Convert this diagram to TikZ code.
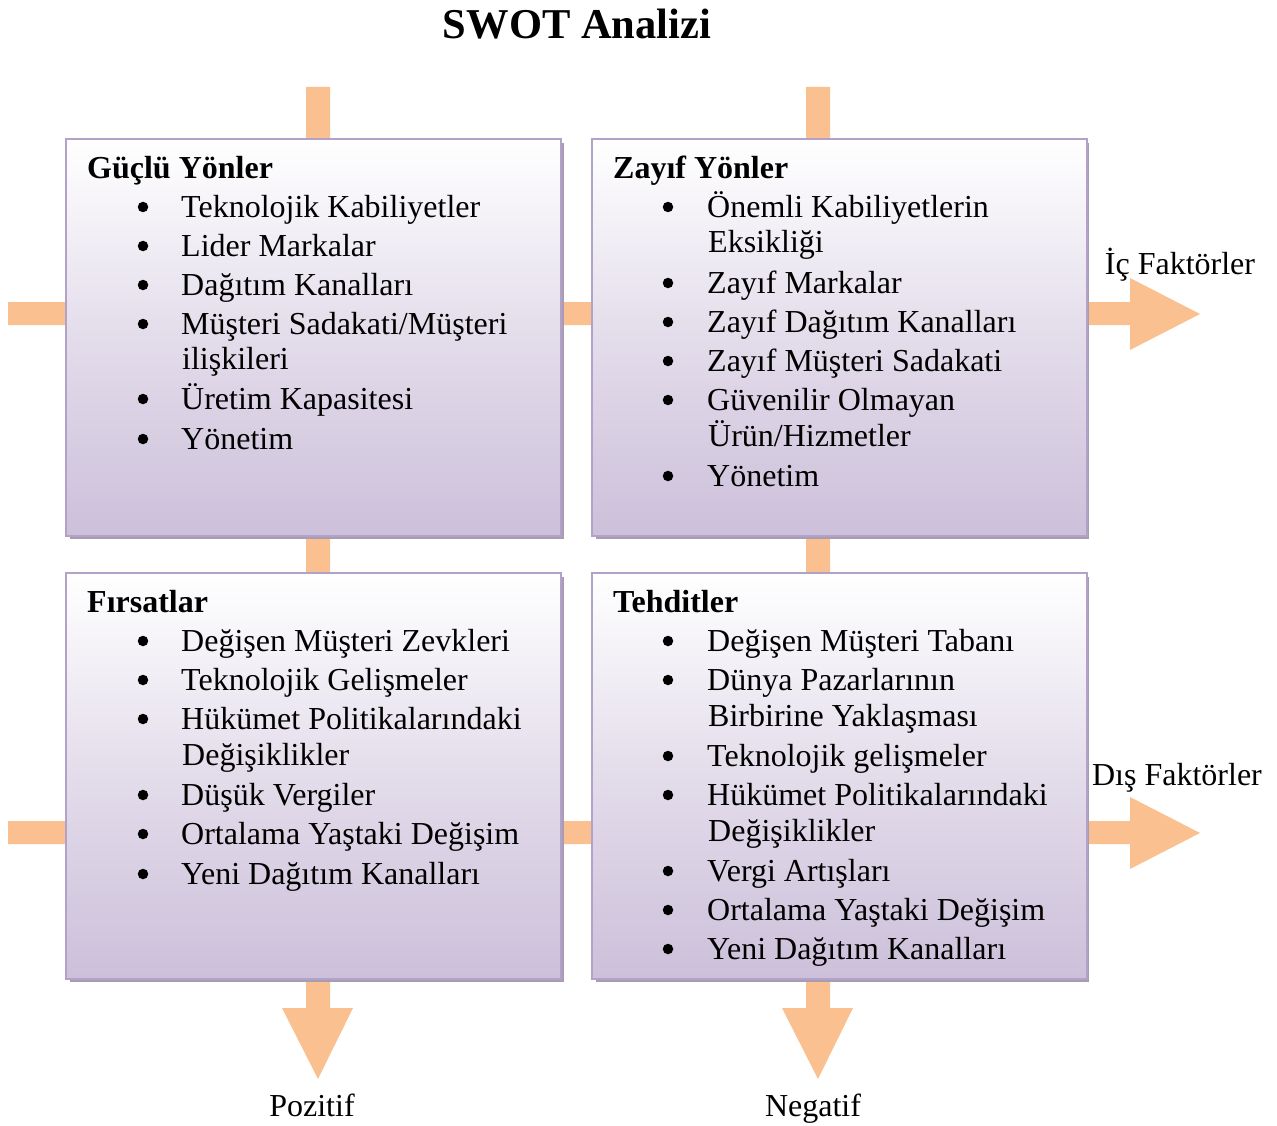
\documentclass[tikz,border=0pt]{standalone}
\usepackage{fontspec}
\setmainfont{Liberation Serif}
\definecolor{arroworange}{HTML}{FAC090}
\definecolor{boxlav}{HTML}{CCC0DA}
\definecolor{boxedge}{HTML}{B3A2C7}
\definecolor{shadowc}{HTML}{A89CB5}
\tikzset{
  swotbox/.style={draw=boxedge, line width=2pt, top color=white, bottom color=boxlav, middle color=boxlav!55, shading angle=0, minimum width=495pt, inner sep=0pt},
  boxshadow/.style={fill=shadowc},
  bararrow/.style={fill=arroworange, draw=none},
  txt/.style={anchor=mid west, inner sep=0pt, yshift=-8pt, font=\fontsize{32}{36}\selectfont},
  head/.style={anchor=mid west, inner sep=0pt, yshift=-8pt, font=\fontsize{32}{36}\selectfont\bfseries},
  bul/.style={circle, fill=black, minimum size=10.5pt, inner sep=0pt},
  lbl/.style={anchor=base, inner sep=0pt, font=\fontsize{32}{36}\selectfont},
}
\newcommand\swline[4]{\node[txt] (#1) at (#2,#3) {#4};}
\newcommand\swbul[3]{\node[bul] (#1) at (#2,#3) {};}
\begin{document}
\begin{tikzpicture}[x=1pt,y=-1pt]
\useasboundingbox (0,0) rectangle (1277,1126);
% orange bars and arrows (behind boxes)
\fill[bararrow] (306,87) -- (330,87) -- (330,1008) -- (353,1008) -- (318,1079) -- (282,1008) -- (306,1008) -- cycle;
\fill[bararrow] (806,87) -- (830,87) -- (830,1008) -- (853,1008) -- (818,1079) -- (782,1008) -- (806,1008) -- cycle;
\fill[bararrow] (8,302) -- (1130,302) -- (1130,278) -- (1200,314) -- (1130,350) -- (1130,325) -- (8,325) -- cycle;
\fill[bararrow] (8,821) -- (1130,821) -- (1130,797) -- (1200,833) -- (1130,869) -- (1130,844) -- (8,844) -- cycle;
% shadows
\fill[boxshadow] (70,143) rectangle (564,539);
\fill[boxshadow] (596,143) rectangle (1089,539);
\fill[boxshadow] (70,577) rectangle (564,982);
\fill[boxshadow] (596,577) rectangle (1089,982);
% boxes
\node[swotbox, minimum height=397pt, anchor=north west] (S) at (65,138) {};
\node[swotbox, minimum height=397pt, anchor=north west] (W) at (591,138) {};
\node[swotbox, minimum height=406pt, anchor=north west] (O) at (65,572) {};
\node[swotbox, minimum height=406pt, anchor=north west] (T) at (591,572) {};
% title and labels
\node[anchor=base, inner sep=0pt, font=\fontsize{42.5}{46}\selectfont\bfseries] (title) at (577,39) {SWOT Analizi};
\node[lbl] (ic) at (1180,274) {İç Faktörler};
\node[lbl] (dis) at (1177,785) {Dış Faktörler};
\node[lbl] (poz) at (312,1116) {Pozitif};
\node[lbl] (neg) at (813,1116) {Negatif};
% S
\node[head] (sh) at (87,168) {Güçlü Yönler};
\swbul{sb1}{143}{207}\swline{s1}{181}{207}{Teknolojik Kabiliyetler}
\swbul{sb2}{143}{246}\swline{s2}{181}{246}{Lider Markalar}
\swbul{sb3}{143}{285}\swline{s3}{181}{285}{Dağıtım Kanalları}
\swbul{sb4}{143}{324}\swline{s4}{181}{324}{Müşteri Sadakati/Müşteri}
\swline{s4b}{182}{359}{ilişkileri}
\swbul{sb5}{143}{399}\swline{s5}{181}{399}{Üretim Kapasitesi}
\swbul{sb6}{143}{439}\swline{s6}{181}{439}{Yönetim}
% W
\node[head] (wh) at (613,168) {Zayıf Yönler};
\swbul{wb1}{668}{207}\swline{w1}{707}{207}{Önemli Kabiliyetlerin}
\swline{w1b}{708}{242}{Eksikliği}
\swbul{wb2}{668}{283}\swline{w2}{707}{283}{Zayıf Markalar}
\swbul{wb3}{668}{322}\swline{w3}{707}{322}{Zayıf Dağıtım Kanalları}
\swbul{wb4}{668}{361}\swline{w4}{707}{361}{Zayıf Müşteri Sadakati}
\swbul{wb5}{668}{400}\swline{w5}{707}{400}{Güvenilir Olmayan}
\swline{w5b}{708}{436}{Ürün/Hizmetler}
\swbul{wb6}{668}{476}\swline{w6}{707}{476}{Yönetim}
% O
\node[head] (oh) at (87,602) {Fırsatlar};
\swbul{ob1}{143}{641}\swline{o1}{181}{641}{Değişen Müşteri Zevkleri}
\swbul{ob2}{143}{680}\swline{o2}{181}{680}{Teknolojik Gelişmeler}
\swbul{ob3}{143}{719}\swline{o3}{181}{719}{Hükümet Politikalarındaki}
\swline{o3b}{182}{755}{Değişiklikler}
\swbul{ob4}{143}{795}\swline{o4}{181}{795}{Düşük Vergiler}
\swbul{ob5}{143}{834}\swline{o5}{181}{834}{Ortalama Yaştaki Değişim}
\swbul{ob6}{143}{874}\swline{o6}{181}{874}{Yeni Dağıtım Kanalları}
% T
\node[head] (th) at (613,602) {Tehditler};
\swbul{tb1}{668}{641}\swline{t1}{707}{641}{Değişen Müşteri Tabanı}
\swbul{tb2}{668}{680}\swline{t2}{707}{680}{Dünya Pazarlarının}
\swline{t2b}{708}{716}{Birbirine Yaklaşması}
\swbul{tb3}{668}{756}\swline{t3}{707}{756}{Teknolojik gelişmeler}
\swbul{tb4}{668}{795}\swline{t4}{707}{795}{Hükümet Politikalarındaki}
\swline{t4b}{708}{831}{Değişiklikler}
\swbul{tb5}{668}{871}\swline{t5}{707}{871}{Vergi Artışları}
\swbul{tb6}{668}{910}\swline{t6}{707}{910}{Ortalama Yaştaki Değişim}
\swbul{tb7}{668}{949}\swline{t7}{707}{949}{Yeni Dağıtım Kanalları}
\end{tikzpicture}
\end{document}
